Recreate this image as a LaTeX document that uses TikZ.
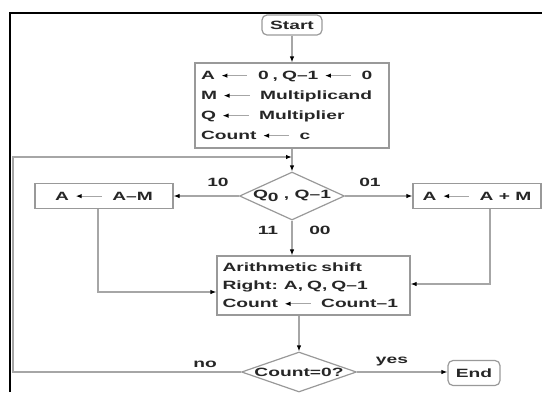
\documentclass[tikz,border=0pt]{standalone}
\usepackage{fontspec}
\setmainfont{Liberation Sans}[FakeStretch=1.6]
\usetikzlibrary{arrows.meta,shapes.geometric}

\newcommand\getsarrow{\hspace{6pt}\tikz[baseline=-4pt]\draw[gray!70,line width=1.2pt,{Latex[length=6pt,width=4.5pt,color=black]}-] (0pt,0pt) -- (26pt,0pt);\hspace{10pt}}

\begin{document}
\begin{tikzpicture}[x=1pt,y=-1pt,
  font=\bfseries\fontsize{12}{14}\selectfont, text=black!85,
  box/.style={draw=gray!80, line width=1.2pt, rectangle, inner sep=0pt},
  decision/.style={draw=gray!80, line width=1.2pt, diamond, inner sep=0pt},
  conn/.style={draw=gray!70, line width=1.2pt},
  arr/.style={conn, -{Latex[length=6pt,width=4.5pt,color=black]}}]
  \useasboundingbox (0,0) rectangle (542,392);
  % screenshot frame
  \draw[line width=2pt] (9.5,392) -- (9.5,13) -- (542,13);

  \node[box, rounded corners=5pt, minimum width=60pt, minimum height=20pt] (start) at (292,25) {Start};
  \node[box, minimum width=194pt, minimum height=85pt, text width=182pt, align=left,
        font=\bfseries\fontsize{12}{20}\selectfont] (init) at (292,105.5)
    {A\getsarrow 0 , Q--1\getsarrow 0\\ M\getsarrow Multiplicand\\ Q\getsarrow Multiplier\\ Count\getsarrow c};
  \node[decision, minimum width=105pt, minimum height=48pt] (test) at (292,196)
    {\makebox[0pt]{Q\raisebox{-3pt}{0} , Q--1}};
  \node[box, minimum width=138pt, minimum height=25pt] (sub) at (104,196) {A\getsarrow A--M};
  \node[box, minimum width=128pt, minimum height=25pt] (add) at (477,196) {A\getsarrow A + M};
  \node[box, minimum width=193pt, minimum height=59pt, text width=182pt, align=left,
        font=\bfseries\fontsize{12}{18}\selectfont] (shift) at (313.5,285.5)
    {Arithmetic shift\\ Right: A, Q, Q--1\\ Count\getsarrow Count--1};
  \node[decision, minimum width=115pt, minimum height=40pt] (cnt) at (299,372)
    {\makebox[0pt]{Count=0?}};
  \node[box, rounded corners=5pt, minimum width=52pt, minimum height=25pt] (end) at (474,373) {End};

  \node (l10) at (218,182) {10};
  \node (l01) at (370,182) {01};
  \node (l11) at (268,230) {11};
  \node (l00) at (320,230) {00};
  \node (lno) at (205,364) {no};
  \node (lyes) at (392,362) {yes};

  \coordinate (lptop) at (13,157);
  \coordinate (join) at (292,157);

  \draw[arr] (start) -- (init);
  \draw[arr] (init) -- (test);
  \draw[arr] (test.west) -- (sub.east);
  \draw[arr] (test.east) -- (add.west);
  \draw[arr] (test.south) -- (test.south |- shift.north);
  \draw[arr] ([xshift=-6pt]sub.south) |- ([yshift=-6.5pt]shift.west);
  \draw[arr] ([xshift=13pt]add.south) |- ([yshift=1.5pt]shift.east);
  \draw[arr] (shift.south -| cnt.north) -- (cnt.north);
  \draw[arr] (cnt.east) -- (cnt.east -| end.west);
  \draw[arr] (cnt.west) -| (lptop) -- (join);
\end{tikzpicture}
\end{document}
